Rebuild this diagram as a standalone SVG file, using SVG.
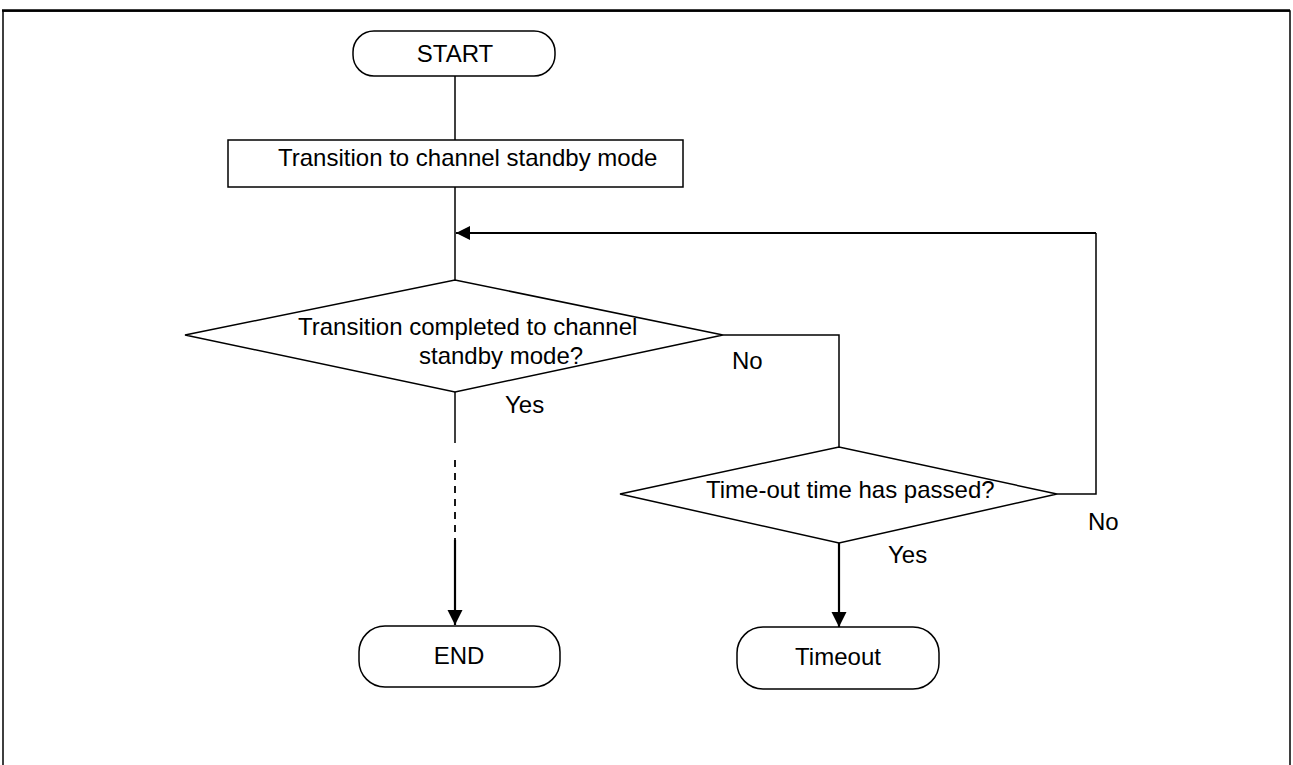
<svg xmlns="http://www.w3.org/2000/svg" width="1293" height="765" viewBox="0 0 1293 765">
<defs>
<style>
text{font-family:"Liberation Sans",Arial,sans-serif;font-size:24px;fill:#000}
.shape{fill:#fff;stroke:#000;stroke-width:1.5}
.conn{fill:none;stroke:#000;stroke-width:1.5}
.dash{fill:none;stroke:#000;stroke-width:1.8;stroke-dasharray:7,6}
.thick{fill:none;stroke:#000;stroke-width:2.2}
.mid{text-anchor:middle}
</style>
<marker id="arr" viewBox="0 0 10 10" refX="10" refY="5" markerWidth="7" markerHeight="7" markerUnits="strokeWidth" orient="auto"><path d="M0,0 L10,5 L0,10 z" fill="#000"/></marker>
<marker id="arr2" viewBox="0 0 10 10" refX="10" refY="5" markerWidth="6.5" markerHeight="6.5" markerUnits="strokeWidth" orient="auto"><path d="M0,0 L10,5 L0,10 z" fill="#000"/></marker>
</defs>
<rect width="1293" height="765" fill="#fff"/>
<g id="frame">
<path d="M3,775 V11 H1290 V775" fill="none" stroke="#000" stroke-width="1.5"/>
<line x1="2" y1="10.5" x2="1290" y2="10.5" stroke="#000" stroke-width="2.5"/>
</g>
<g id="connectors">
<line class="conn" x1="455" y1="76" x2="455" y2="140"/>
<line class="conn" x1="455" y1="187" x2="455" y2="280"/>
<line class="conn" x1="455" y1="392" x2="455" y2="443"/>
<line class="dash" x1="455" y1="460" x2="455" y2="540"/>
<line class="thick" x1="455" y1="540" x2="455" y2="625" marker-end="url(#arr)"/>
<polyline class="conn" points="723,335 839,335 839,447"/>
<polyline class="conn" points="1057,494 1096,494 1096,233"/>
<line class="thick" x1="1096" y1="233" x2="456" y2="233" marker-end="url(#arr2)"/>
<line class="thick" x1="839" y1="543" x2="839" y2="627" marker-end="url(#arr)"/>
</g>
<g id="start">
<rect class="shape" x="353" y="31" width="202" height="45" rx="21" ry="21"/>
<text class="mid" x="455" y="62">START</text>
</g>
<g id="transition">
<rect class="shape" x="228" y="140" width="455" height="47"/>
<text x="278" y="166">Transition to channel standby mode</text>
</g>
<g id="decision1">
<polygon class="shape" points="185,335 455,280 723,335 455,392"/>
<text x="298" y="335">Transition completed to channel</text>
<text x="419" y="364">standby mode?</text>
</g>
<g id="decision2">
<polygon class="shape" points="620,494 839,447 1057,494 839,543"/>
<text x="706" y="498">Time-out time has passed?</text>
</g>
<g id="end">
<rect class="shape" x="359" y="626" width="201" height="61" rx="26" ry="26"/>
<text class="mid" x="459" y="664">END</text>
</g>
<g id="timeout">
<rect class="shape" x="737" y="627" width="202" height="62" rx="26" ry="26"/>
<text class="mid" x="838" y="665">Timeout</text>
</g>
<g id="labels">
<text x="732" y="369">No</text>
<text x="505" y="413">Yes</text>
<text x="1088" y="530">No</text>
<text x="888" y="563">Yes</text>
</g>
</svg>
